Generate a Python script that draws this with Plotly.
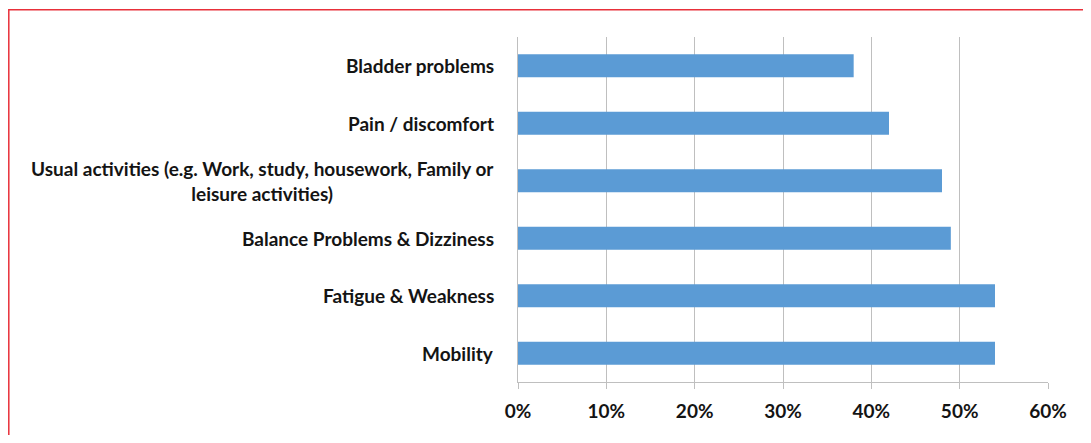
import plotly.graph_objects as go

categories = [
    "Bladder problems",
    "Pain / discomfort",
    "Usual activities (e.g. Work, study, housework, Family or<br>leisure activities)",
    "Balance Problems & Dizziness",
    "Fatigue & Weakness",
    "Mobility",
]
values = [0.38, 0.42, 0.48, 0.49, 0.54, 0.54]
x_ticks = [0, 0.1, 0.2, 0.3, 0.4, 0.5, 0.6]

# page has an 8px body margin; figure coordinates = page - 8
OFF = 8
W, H = 1075, 427
L = 518 - OFF
R = W - (1048 - OFF)
T = 37 - OFF
B = H - (382 - OFF)
pw, ph = W - L - R, H - T - B

def px_x(p):
    return (p - OFF - L) / pw

def px_y(p):
    return (H - B - (p - OFF)) / ph

FONT = "Lato"
TXT = "#141414"
GRID = "#BFBFBF"

fig = go.Figure()
fig.add_trace(go.Bar(
    x=values,
    y=categories,
    orientation="h",
    width=0.4,
    marker=dict(color="#5B9BD5", line=dict(width=0)),
    hoverinfo="x+y",
))

annotations = []
for c in categories:
    annotations.append(dict(
        x=0, xref="paper", y=c, yref="y",
        text="<b>" + c + "</b>",
        showarrow=False, xanchor="right", yanchor="middle",
        align="center", xshift=-22,
        font=dict(family=FONT, size=19, color=TXT),
    ))

fig.update_layout(
    width=W, height=H,
    margin=dict(l=L, r=R, t=T, b=B, pad=0),
    paper_bgcolor="white", plot_bgcolor="white",
    showlegend=False,
    annotations=annotations,
    shapes=[dict(
        type="rect", xref="paper", yref="paper",
        x0=px_x(8.8), x1=px_x(1120), y0=px_y(470), y1=px_y(9.8),
        line=dict(color="#E8303A", width=1.5), fillcolor="rgba(0,0,0,0)",
        layer="above",
    )],
    xaxis=dict(
        range=[0, 0.6],
        tickvals=x_ticks,
        tickformat=".0%",
        showgrid=True, gridcolor=GRID, gridwidth=1.3,
        showline=True, linecolor=GRID, linewidth=1.3,
        ticks="outside", ticklen=6, tickcolor=GRID, tickwidth=1.3,
        zeroline=False,
        tickfont=dict(family=FONT, size=19, color=TXT, weight="bold"),
        ticklabelstandoff=6,
        fixedrange=True,
    ),
    yaxis=dict(
        autorange="reversed",
        showticklabels=False,
        showgrid=False,
        showline=True, linecolor=GRID, linewidth=1.3,
        ticks="",
        zeroline=False,
        fixedrange=True,
    ),
)

fig.write_html("out.html")
